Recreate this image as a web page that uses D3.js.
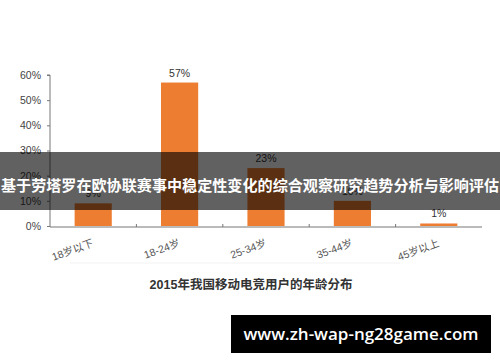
<!DOCTYPE html>
<html><head><meta charset="utf-8">
<script src="https://cdn.jsdelivr.net/npm/d3@7"></script>
<style>body{margin:0;background:#fff}svg{display:block}</style>
</head><body>
<svg id="c" width="500" height="362"></svg>
<script>
const categories = ["18岁以下","18-24岁","25-34岁","35-44岁","45岁以上"];
const values = [9,57,23,10,1];
const yTicks = [0,10,20,30,40,50,60];
const title = "2015年我国移动电竞用户的年龄分布";
const banner = "基于劳塔罗在欧协联赛事中稳定性变化的综合观察研究趋势分析与影响评估";
const site = "www.zh-wap-ng28game.com";

const svg = d3.select("#c");
const font = "Arial, 'Liberation Sans', 'Noto Sans CJK SC', sans-serif";
const x = d3.scaleBand().domain(categories).range([50,482]).paddingInner(0.57).paddingOuter(0.285);
const y = d3.scaleLinear().domain([0,60]).range([226,75]);

const yAxis = svg.append("g").attr("transform","translate(50,0)")
  .call(d3.axisLeft(y).tickValues(yTicks).tickFormat(d=>d+"%").tickSize(3).tickPadding(6));
yAxis.select(".domain").attr("stroke","#777").attr("d","M-3,75H0V227");
yAxis.selectAll(".tick line").attr("stroke","#777");
yAxis.selectAll("text").attr("font-family",font).attr("font-size",10.5).attr("fill","#444");

const step = x.step();
const xAxis = svg.append("g").attr("transform","translate(0,227)");
xAxis.append("line").attr("x1",50).attr("x2",482).attr("stroke","#777");
xAxis.selectAll("line.t").data(categories.slice(1)).enter().append("line")
  .attr("x1",d=>x(d)-(step-x.bandwidth())/2).attr("x2",d=>x(d)-(step-x.bandwidth())/2)
  .attr("y1",0).attr("y2",-3).attr("stroke","#777");

svg.selectAll("rect.bar").data(values).enter().append("rect")
  .attr("x",(d,i)=>x(categories[i])).attr("width",x.bandwidth())
  .attr("y",d=>y(d)).attr("height",d=>y(0)-y(d)).attr("fill","#ED7D31");

svg.selectAll("text.v").data(values).enter().append("text")
  .attr("x",(d,i)=>x(categories[i])+x.bandwidth()/2).attr("y",d=>y(d)-6)
  .attr("text-anchor","middle").attr("font-family",font).attr("font-size",10.5).attr("fill","#333")
  .text(d=>d+"%");

svg.selectAll("text.xl").data(categories).enter().append("text")
  .attr("transform",d=>`translate(${x(d)+x.bandwidth()/2+1},${246}) rotate(-20)`)
  .attr("text-anchor","end").attr("font-family",font).attr("font-size",10.5).attr("fill","#555")
  .text(d=>d);

svg.append("line").attr("x1",70).attr("x2",400).attr("y1",263).attr("y2",263).attr("stroke","#f2f2f2");

svg.append("text").attr("x",251).attr("y",289).attr("text-anchor","middle")
  .attr("font-family",font).attr("font-weight","bold").attr("font-size",12.5).attr("fill","#333").text(title);

svg.append("rect").attr("x",0).attr("y",152).attr("width",500).attr("height",58).attr("fill","rgba(0,0,0,0.62)");
svg.append("text").attr("x",250).attr("y",191).attr("text-anchor","middle")
  .attr("font-family","'Noto Sans CJK SC', sans-serif").attr("font-weight","bold").attr("font-size",15.1)
  .attr("fill","#fff").text(banner);

svg.append("rect").attr("x",231).attr("y",315).attr("width",260).attr("height",38).attr("fill","#000");
svg.append("text").attr("x",361).attr("y",340).attr("text-anchor","middle")
  .attr("font-family","'Open Sans', 'DejaVu Sans', sans-serif").attr("font-weight","600").attr("font-size",17)
  .attr("fill","#fff").text(site);
</script>
</body></html>
